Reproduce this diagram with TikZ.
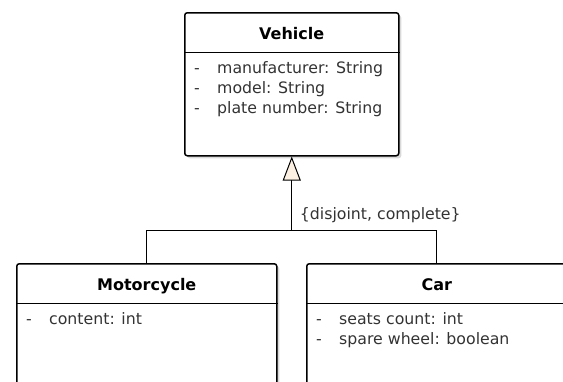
\documentclass[tikz,border=0pt]{standalone}
\usepackage{fontspec}
\setmainfont{DejaVu Sans}
\usetikzlibrary{positioning,shadows,arrows.meta}
\definecolor{attrgray}{HTML}{333333}
\definecolor{genfill}{HTML}{FBF0E2}
\newcommand{\attr}[1]{\makebox[23pt][l]{-}#1}

\begin{document}
\begin{tikzpicture}[x=1pt,y=1pt]
        \tikzstyle{classbox} = [rectangle, draw=black, line width=1.5pt, rounded corners=2.5pt, fill=white, anchor=north west, minimum width=260pt, minimum height=150pt, drop shadow={shadow xshift=2.5pt, shadow yshift=-2.5pt, fill=black!15, opacity=1}]
        \tikzstyle{title} = [font=\fontsize{16}{20}\selectfont\bfseries, text=black, anchor=base, inner sep=0pt]
        \tikzstyle{attrs} = [font=\fontsize{15.75}{20}\selectfont, text=attrgray, align=left, anchor=north west, inner sep=0pt]
        \tikzstyle{line} = [line width=1pt]
        \tikzstyle{inherit} = [line width=1pt, -{Triangle[length=24pt, width=18pt, fill=genfill]}]

                \useasboundingbox (0,0) rectangle (563,-381);

                \node (vehicle) [classbox, minimum width=214pt, minimum height=143pt] at (184,-12) {};
                \node (motorcycle) [classbox] at (16,-263) {};
                \node (car) [classbox] at (306,-263) {};

                % header separators
                \draw[line] ([yshift=-40pt]vehicle.north west) -- ([yshift=-40pt]vehicle.north east);
                \draw[line] ([yshift=-40pt]motorcycle.north west) -- ([yshift=-40pt]motorcycle.north east);
                \draw[line] ([yshift=-40pt]car.north west) -- ([yshift=-40pt]car.north east);

                \node (vehiclename) [title] at ([yshift=-27.5pt]vehicle.north) {Vehicle};
                \node (motorcyclename) [title] at ([yshift=-27.5pt]motorcycle.north) {Motorcycle};
                \node (carname) [title] at ([yshift=-27.5pt]car.north) {Car};

                \node (vehicleattrs) [attrs] at ([xshift=10pt, yshift=-47pt]vehicle.north west) {\strut\attr{manufacturer: String}\\\attr{model: String}\\\attr{plate number: String}};
                \node (motorcycleattrs) [attrs] at ([xshift=10pt, yshift=-47pt]motorcycle.north west) {\strut\attr{content: int}};
                \node (carattrs) [attrs] at ([xshift=10pt, yshift=-47pt]car.north west) {\strut\attr{seats count: int}\\\attr{spare wheel: boolean}};

                \coordinate (split) at ([yshift=33pt]motorcycle.north);
                \draw[line] (motorcycle.north) -- (split) -| (car.north);
                \draw[inherit] (split -| vehicle.south) -- (vehicle.south);
                \node (constraint) [attrs, anchor=base west] at ([xshift=8pt, yshift=11pt]split -| vehicle.south) {\{disjoint, complete\}};
\end{tikzpicture}
\end{document}
